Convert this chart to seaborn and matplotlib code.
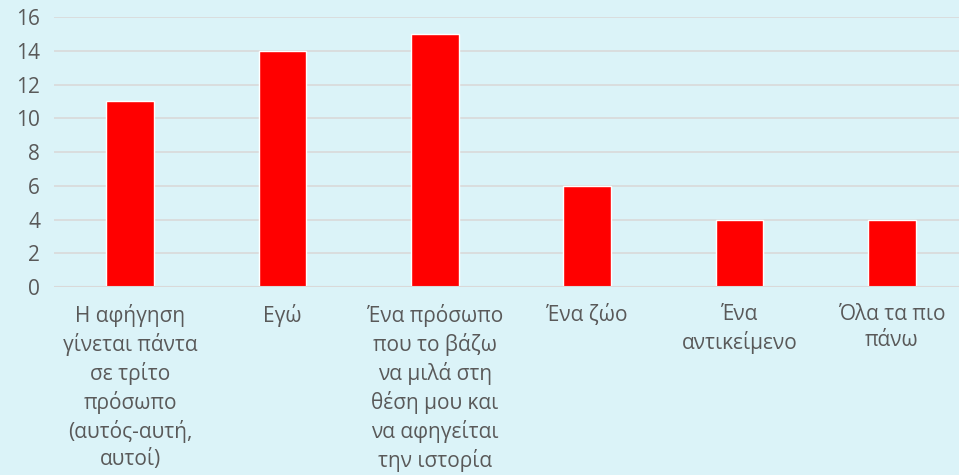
import matplotlib
matplotlib.use("Agg")
import matplotlib.pyplot as plt
import pandas as pd
import seaborn as sns

# chart data
categories = [
    "Η αφήγηση\nγίνεται πάντα\nσε τρίτο\nπρόσωπο\n(αυτός-αυτή,\nαυτοί)",
    "Εγώ",
    "Ένα πρόσωπο\nπου το βάζω\nνα μιλά στη\nθέση μου και\nνα αφηγείται\nτην ιστορία",
    "Ένα ζώο",
    "Ένα\nαντικείμενο",
    "Όλα τα πιο\nπάνω",
]
counts = [11, 14, 15, 6, 4, 4]
y_ticks = [0, 2, 4, 6, 8, 10, 12, 14, 16]

BG = "#DBF3F8"
TXT = "#595959"

sns.set_theme(style="white")
plt.rcParams["font.family"] = ["Open Sans", "DejaVu Sans"]

df = pd.DataFrame({"cat": categories, "n": counts})

fig = plt.figure(figsize=(9.59, 4.75), dpi=100, facecolor=BG)
# axes runs a bit past the right edge, like the cropped original
ax = fig.add_axes([54 / 959, 188 / 475, 914 / 959, 270 / 475])
ax.set_facecolor(BG)

sns.barplot(data=df, x="cat", y="n", color="#FF0000", width=0.315,
            saturation=1, ax=ax, zorder=3)

ax.set_ylim(0, 16)
ax.set_xlim(-0.5, len(categories) - 0.5)
ax.set_yticks(y_ticks)
ax.yaxis.grid(True, color="#D9D9D9", linewidth=1.2, zorder=0)
ax.set_axisbelow(True)
for s in ax.spines.values():
    s.set_visible(False)
ax.axhline(0, color="#D9D9D9", linewidth=1.5, zorder=4)

ax.tick_params(axis="both", length=0, labelsize=15, labelcolor=TXT)
ax.tick_params(axis="y", pad=10)
ax.tick_params(axis="x", pad=12)
for lbl in ax.get_xticklabels():
    lbl.set_linespacing(1.34)
    lbl.set_verticalalignment("top")

ax.set_xlabel("")
ax.set_ylabel("")

fig.savefig("out.png", dpi=100, facecolor=BG)
